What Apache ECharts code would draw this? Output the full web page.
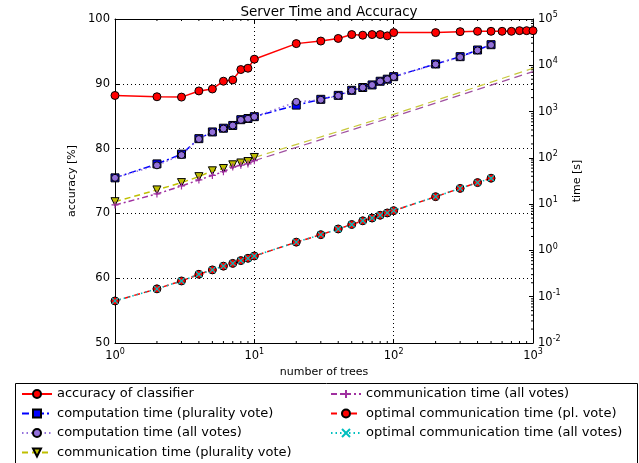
<!DOCTYPE html>
<html>
<head>
<meta charset="utf-8">
<script src="https://cdn.jsdelivr.net/npm/echarts@6/dist/echarts.min.js"></script>
<style>
    html, body { margin: 0; padding: 0; background: #fff; }
    #chart { width: 639px; height: 463px; }
</style>
</head>
<body>
<div id="chart"></div>
<script>
// number of trees
const trees = [1, 2, 3, 4, 5, 6, 7, 8, 9, 10, 20, 30, 40, 50, 60, 70, 80, 90, 100, 200, 300, 400, 500];
const accTrees = [1, 2, 3, 4, 5, 6, 7, 8, 9, 10, 20, 30, 40, 50, 60, 70, 80, 90, 100, 200, 300, 400, 500, 600, 700, 800, 900, 1000];
const commTrees = [1, 2, 3, 4, 5, 6, 7, 8, 9, 10];
const fitTrees = [10, 100, 1000];

// accuracy [%]
const accuracy = [88.2, 88.0, 87.95, 88.9, 89.2, 90.4, 90.6, 92.2, 92.4, 93.8,
    96.2, 96.6, 97.0, 97.6, 97.5, 97.6, 97.6, 97.4, 97.9,
    97.9, 98.05, 98.1, 98.1, 98.1, 98.1, 98.2, 98.2, 98.2];

// time [s]
const compPlurality = [37, 74, 120, 260, 363, 437, 501, 668, 708, 776,
    1380, 1840, 2240, 2880, 3310, 3760, 4520, 5010, 5680,
    10670, 15350, 21380, 27860];
const compAll = [37, 69, 115, 255, 360, 430, 500, 660, 700, 770,
    1620, 1800, 2200, 2850, 3300, 3750, 4500, 5000, 5600,
    10500, 15000, 21000, 27500];
const commPlurality = [11.3, 20.3, 29.2, 39.3, 52.5, 58.9, 70.8, 77.6, 83.2, 102];
const commAll = [9.6, 16.6, 24.7, 33.3, 41.7, 50.1, 63.1, 69.2, 74.1, 87.1];
const commPluralityFit = [102, 871, 8610];
const commAllFit = [87, 776, 7295];
const optimalPl = [0.081, 0.148, 0.219, 0.305, 0.38, 0.457, 0.525, 0.603, 0.676, 0.759,
    1.51, 2.19, 2.91, 3.63, 4.37, 5.01, 5.75, 6.46, 7.24,
    14.5, 21.9, 29.2, 36.3];
const optimalAll = [0.081, 0.148, 0.219, 0.305, 0.38, 0.457, 0.525, 0.603, 0.676, 0.759,
    1.51, 2.19, 2.91, 3.63, 4.37, 5.01, 5.75, 6.46, 7.24,
    14.5, 21.9, 29.2, 36.3];

const legendLeft = ['accuracy of classifier', 'computation time (plurality vote)',
    'computation time (all votes)', 'communication time (plurality vote)'];
const legendRight = ['communication time (all votes)', 'optimal communication time (pl. vote)',
    'optimal communication time (all votes)'];

// minor ticks of the log axes (2..9 in every decade)
const minorX = [];
for (const d of [1, 10, 100]) for (let k = 2; k <= 9; k++) minorX.push(k * d);
const minorY = [];
for (const d of [0.01, 0.1, 1, 10, 100, 1000, 10000]) for (let k = 2; k <= 9; k++) minorY.push(+(k * d).toPrecision(3));

const pairs = (xs, ys) => xs.map((x, i) => [x, ys[i]]);

const font = 'DejaVu Sans';
const supLabel = (v) => '{b|10}{s|' + Math.round(Math.log10(v)) + '}';
const supRich = {
    b: { fontSize: 11.5, fontFamily: font, color: '#000', lineHeight: 16 },
    s: { fontSize: 8, fontFamily: font, color: '#000', verticalAlign: 'top', lineHeight: 10 }
};

const X = '#000';
const plus = 'path://M5,0L5,10M0,5L10,5';
const cross = 'path://M0,0L10,10M10,0L0,10';

const legendBase = {
    orient: 'vertical', top: 387.5, padding: 0,
    itemWidth: 30, itemHeight: 10, itemGap: 6.5,
    textStyle: { fontSize: 13, color: '#000', fontFamily: font }
};

const chart = echarts.init(document.getElementById('chart'));
chart.setOption({
    animation: false,
    textStyle: { fontFamily: font },
    title: {
        text: 'Server Time and Accuracy',
        left: 324, top: 0, textAlign: 'center',
        textStyle: { fontSize: 13.5, fontWeight: 'normal', color: '#000', fontFamily: font }
    },
    grid: { left: 115, right: 106, top: 19, bottom: 120 },
    legend: [
        Object.assign({ data: legendLeft, left: 21 }, legendBase),
        Object.assign({ data: legendRight, left: 330 }, legendBase)
    ],
    graphic: [{
        type: 'rect', left: 13, top: 381,
        shape: { width: 622, height: 90 },
        style: { fill: 'none', stroke: '#000', lineWidth: 1 }
    }],
    xAxis: [
        {
            type: 'log', logBase: 10, min: 1, max: 1000,
            name: 'number of trees', nameLocation: 'middle', nameGap: 21,
            nameTextStyle: { fontSize: 11, color: '#000', fontFamily: font },
            axisLine: { lineStyle: { color: X, width: 1 } },
            axisTick: { inside: true, length: 4, lineStyle: { color: X } },
            axisLabel: { formatter: supLabel, rich: supRich, margin: 5 },
            splitLine: { show: true, lineStyle: { color: X, type: [1, 3], width: 1 } },
            minorTick: { show: false }
        },
        {
            type: 'log', logBase: 10, min: 1, max: 1000, position: 'top',
            axisLine: { lineStyle: { color: X, width: 1 } },
            axisTick: { inside: true, length: 4, lineStyle: { color: X } },
            axisLabel: { show: false },
            splitLine: { show: false }
        }
    ],
    yAxis: [
        {
            type: 'value', min: 50, max: 100, interval: 10,
            name: 'accuracy [%]', nameLocation: 'middle', nameGap: 19,
            nameTextStyle: { fontSize: 11, color: '#000', fontFamily: font },
            axisLine: { show: true, lineStyle: { color: X, width: 1 } },
            axisTick: { show: true, inside: true, length: 4, lineStyle: { color: X } },
            axisLabel: { fontSize: 11.5, color: '#000', margin: 5 },
            splitLine: { show: true, lineStyle: { color: X, type: [1, 3], width: 1 } }
        },
        {
            type: 'log', logBase: 10, min: 0.01, max: 100000, position: 'right',
            name: 'time [s]', nameLocation: 'middle', nameGap: 26,
            nameTextStyle: { fontSize: 11, color: '#000', fontFamily: font },
            axisLine: { show: true, lineStyle: { color: X, width: 1 } },
            axisTick: { show: true, inside: true, length: 4, lineStyle: { color: X } },
            axisLabel: { formatter: supLabel, rich: supRich, margin: 5 },
            splitLine: { show: false }
        }
    ],
    series: [
        {
            name: 'accuracy of classifier', type: 'line', yAxisIndex: 0,
            data: pairs(accTrees, accuracy),
            symbol: 'circle', symbolSize: 8,
            lineStyle: { color: '#ff0000', width: 1.5 },
            itemStyle: { color: '#ff0000', borderColor: X, borderWidth: 1 }
        },
        {
            name: 'computation time (plurality vote)', type: 'line', yAxisIndex: 1,
            data: pairs(trees, compPlurality),
            symbol: 'rect', symbolSize: 8,
            lineStyle: { color: '#0000ff', width: 1.5, type: [7, 3, 2, 3] },
            itemStyle: { color: '#0000ff', borderColor: X, borderWidth: 1 }
        },
        {
            name: 'computation time (all votes)', type: 'line', yAxisIndex: 1,
            data: pairs(trees, compAll),
            symbol: 'circle', symbolSize: 7,
            lineStyle: { color: '#9370db', width: 1.5, type: [1.5, 3] },
            itemStyle: { color: '#9370db', borderColor: X, borderWidth: 1 }
        },
        {
            name: 'communication time (plurality vote)', type: 'line', yAxisIndex: 1,
            data: pairs(commTrees, commPlurality),
            symbol: 'triangle', symbolRotate: 180, symbolSize: 8,
            lineStyle: { color: '#bfbf00', width: 1.5, type: [6, 4] },
            itemStyle: { color: '#bfbf00', borderColor: X, borderWidth: 1 }
        },
        {
            name: 'communication time (all votes)', type: 'line', yAxisIndex: 1,
            data: pairs(commTrees, commAll),
            symbol: plus, symbolSize: 7,
            lineStyle: { color: '#a030a0', width: 1.5, type: [6, 3, 2, 3] },
            itemStyle: { color: '#a030a0', borderColor: '#a030a0', borderWidth: 1.2 }
        },
        {
            name: 'comm pl fit', type: 'line', yAxisIndex: 1, silent: true,
            data: pairs(fitTrees, commPluralityFit), showSymbol: false, symbol: 'none',
            lineStyle: { color: '#c8c83c', width: 1.2, type: [8, 5] }
        },
        {
            name: 'comm all fit', type: 'line', yAxisIndex: 1, silent: true,
            data: pairs(fitTrees, commAllFit), showSymbol: false, symbol: 'none',
            lineStyle: { color: '#a050a0', width: 1.2, type: [8, 5] }
        },
        {
            name: 'optimal communication time (pl. vote)', type: 'line', yAxisIndex: 1,
            data: pairs(trees, optimalPl),
            symbol: 'circle', symbolSize: 8,
            lineStyle: { color: '#ff0000', width: 1.5, type: [6, 4] },
            itemStyle: { color: '#ff0000', borderColor: X, borderWidth: 1 }
        },
        {
            name: 'optimal communication time (all votes)', type: 'line', yAxisIndex: 1,
            data: pairs(trees, optimalAll),
            symbol: cross, symbolSize: 6,
            lineStyle: { color: '#00bfbf', width: 1.5, type: [1.5, 3] },
            itemStyle: { color: '#00bfbf', borderColor: '#00bfbf', borderWidth: 1.2 }
        },
        {
            name: 'minor x', type: 'custom', yAxisIndex: 1, silent: true, clip: false,
            data: minorX.map(v => [v, 1]),
            renderItem: (params, api) => {
                const v = api.value(0);
                const b = api.coord([v, 0.01]);
                const t = api.coord([v, 100000]);
                const st = { stroke: X, lineWidth: 1 };
                return {
                    type: 'group', children: [
                        { type: 'line', shape: { x1: b[0], y1: b[1], x2: b[0], y2: b[1] - 2 }, style: st },
                        { type: 'line', shape: { x1: t[0], y1: t[1], x2: t[0], y2: t[1] + 2 }, style: st }
                    ]
                };
            }
        },
        {
            name: 'minor y', type: 'custom', yAxisIndex: 1, silent: true, clip: false,
            data: minorY.map(v => [1000, v]),
            renderItem: (params, api) => {
                const p = api.coord([1000, api.value(1)]);
                return {
                    type: 'line', shape: { x1: p[0], y1: p[1], x2: p[0] - 2, y2: p[1] },
                    style: { stroke: X, lineWidth: 1 }
                };
            }
        }
    ]
});
</script>
</body>
</html>
